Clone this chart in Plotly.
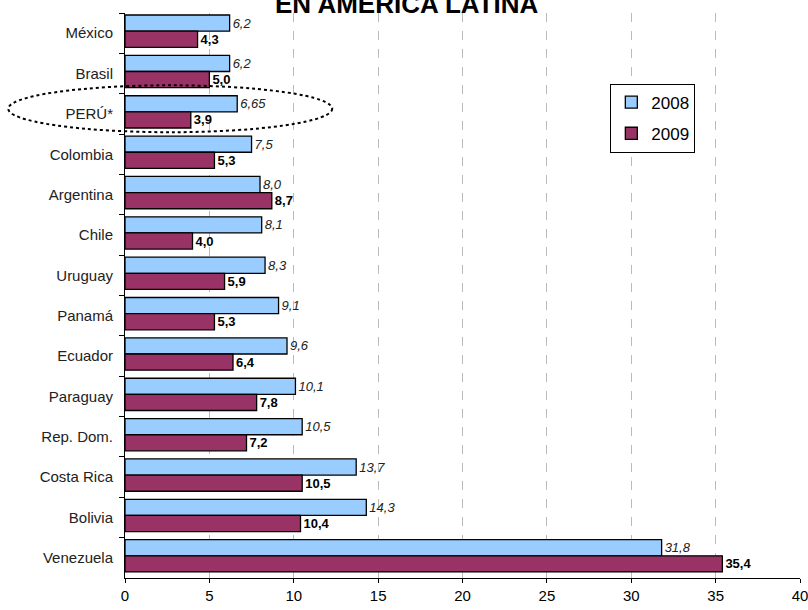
import plotly.graph_objects as go

countries = ["México", "Brasil", "PERÚ*", "Colombia", "Argentina", "Chile", "Uruguay",
             "Panamá", "Ecuador", "Paraguay", "Rep. Dom.", "Costa Rica", "Bolivia", "Venezuela"]
v2008 = [6.2, 6.2, 6.65, 7.5, 8.0, 8.1, 8.3, 9.1, 9.6, 10.1, 10.5, 13.7, 14.3, 31.8]
v2009 = [4.3, 5.0, 3.9, 5.3, 8.7, 4.0, 5.9, 5.3, 6.4, 7.8, 7.2, 10.5, 10.4, 35.4]
x_ticks = [0, 5, 10, 15, 20, 25, 30, 35, 40]


def fmt(v):
    s = "%.1f" % v if round(v, 1) == v else "%.2f" % v
    return s.replace(".", ",")


FONT = "Liberation Sans, Arial, sans-serif"

fig = go.Figure()
fig.add_trace(go.Bar(
    y=countries, x=v2008, orientation="h", name="2008",
    width=0.4, offset=-0.45,
    marker=dict(color="#99CCFF", line=dict(color="#000000", width=1.3)),
    text=[fmt(v) for v in v2008], textposition="outside", cliponaxis=False,
    textfont=dict(family=FONT, size=13, color="#222222", style="italic"),
    legendgroup="a",
))
fig.add_trace(go.Bar(
    y=countries, x=v2009, orientation="h", name="2009",
    width=0.4, offset=-0.05,
    marker=dict(color="#993366", line=dict(color="#000000", width=1.3)),
    text=[fmt(v) for v in v2009], textposition="outside", cliponaxis=False,
    textfont=dict(family=FONT, size=13, color="#000000", weight="bold"),
    legendgroup="b",
))

fig.update_layout(
    width=808, height=610,
    margin=dict(l=125, r=8, t=13, b=32, autoexpand=False),
    paper_bgcolor="white", plot_bgcolor="white",
    barmode="group",
    showlegend=True,
    legend=dict(x=0.719, y=0.875, xanchor="left", yanchor="top",
                bgcolor="white", bordercolor="#000000", borderwidth=1,
                font=dict(family=FONT, size=17, color="#000000"),
                tracegroupgap=6, traceorder="grouped", itemwidth=30),
    xaxis=dict(range=[0, 40], tickvals=x_ticks, ticktext=[str(t) for t in x_ticks],
               automargin=False, ticklabeloverflow="allow",
               showgrid=True, gridcolor="#BBBBBB", griddash="dash", gridwidth=1,
               zeroline=False, showline=True, linecolor="#000000", linewidth=1,
               ticks="outside", ticklen=4, tickcolor="#000000",
               tickfont=dict(family=FONT, size=15, color="#000000")),
    yaxis=dict(autorange="reversed", showgrid=False, zeroline=False, automargin=False,
               showline=True, linecolor="#000000", linewidth=1,
               ticks="outside", ticklen=5, tickcolor="#000000", tickson="boundaries",
               ticklabelstandoff=8,
               tickfont=dict(family=FONT, size=15, color="#222222")),
    annotations=[dict(text="<b>EN AMÉRICA LATINA</b>", xref="paper", yref="paper",
                      x=0.418, y=1, xanchor="center", yanchor="bottom", yshift=-8,
                      showarrow=False,
                      font=dict(family=FONT, size=26, color="#000000"))],
    shapes=[dict(type="circle", xref="paper", yref="paper", x0=-0.173, x1=0.307,
                 y0=0.789, y1=0.872,
                 line=dict(color="#000000", width=2, dash="dot"), layer="above")],
)

fig.write_html("out.html", config={"displayModeBar": False},
               post_script="document.body.style.margin='0';")
